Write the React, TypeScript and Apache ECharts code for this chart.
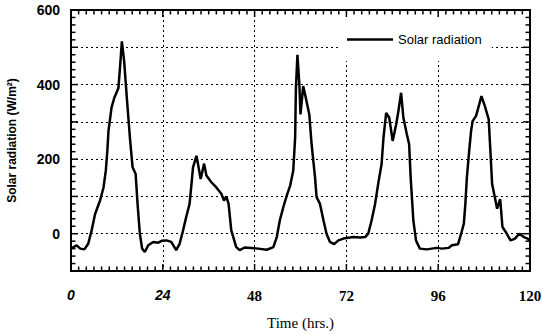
import React, { useEffect, useRef } from "react";
import * as echarts from "echarts";

// Time (hrs.) and solar radiation (W/m²)
const hours: number[] = [
  0, 1.5, 2.4, 3.5, 4.5, 5.4, 6.3, 7.6, 8.5, 9.1, 9.5, 9.8, 10.6, 11.3, 12.4, 12.8, 13.3, 13.9, 14.6, 15.4,
  16.1, 16.9, 17.4, 18.0, 18.6, 19.3, 20.2, 21.5, 22.8, 23.7, 25.0, 26.2, 27.5, 28.4, 29.3, 30.1, 31.0, 31.5,
  31.9, 32.8, 33.2, 33.9, 34.8, 35.4, 36.7, 38.0, 39.3, 40.0, 40.6, 41.2, 41.9, 43.2, 44.1, 45.4, 47.1, 48.9,
  51.2, 52.9, 53.8, 54.6, 55.5, 56.4, 57.3, 58.1, 58.6, 58.8, 59.2, 59.7, 60.0, 60.7, 61.4, 62.3, 62.9, 63.8,
  64.2, 65.1, 66.0, 66.8, 67.7, 68.8, 69.9, 71.6, 73.8, 75.6, 76.9, 77.7, 78.6, 79.5, 80.3, 81.2, 81.7, 82.4,
  83.2, 84.1, 85.0, 85.6, 86.3, 86.9, 87.8, 88.4, 88.8, 89.5, 90.2, 91.2, 93.0, 95.6, 97.0, 98.7, 99.6, 101.2,
  102.0, 102.7, 103.1, 103.5, 104.1, 104.6, 105.0, 105.9, 106.6, 107.3, 108.2, 109.2, 109.6, 110.1, 110.8,
  111.4, 112.2, 112.8, 113.7, 114.9, 116.0, 117.2, 118.4, 119.4, 120,
];
const radiation: number[] = [
  -40, -31, -40, -42, -27, 9, 53, 89, 124, 169, 222, 276, 338, 364, 391, 444, 516, 462, 364, 258,
  178, 160, 80, 0, -40, -49, -31, -22, -24, -19, -18, -22, -44, -27, 9, 44, 80, 133,
  178, 209, 187, 147, 188, 156, 138, 124, 107, 89, 100, 80, 9, -36, -44, -37, -38, -40,
  -43, -36, -9, 36, 71, 102, 129, 169, 258, 391, 480, 400, 320, 396, 364, 320, 240, 151,
  98, 80, 36, 0, -22, -28, -18, -12, -9, -10, -9, 0, 36, 80, 133, 187, 258, 324,
  311, 249, 293, 329, 378, 311, 267, 240, 151, 36, -18, -40, -42, -38, -40, -38, -31, -28,
  0, 27, 80, 151, 222, 276, 302, 316, 342, 369, 342, 307, 231, 133, 98,
  67, 93, 18, 4, -18, -14, 0, -9, -13, -19,
];
const xTicks: number[] = [0, 24, 48, 72, 96, 120];
const yLabelled: number[] = [0, 200, 400, 600];
const X_MIN = 0, X_MAX = 120, X_MAJOR = 24, X_MINOR = 2;
const Y_MIN = -100, Y_MAX = 600, Y_MAJOR = 100, Y_MINOR = 20;
const seriesName = "Solar radiation";

const dotted = () => ({ show: true, lineStyle: { color: "#000", width: 1, type: [2, 3] as any } });
const axisLine = () => ({ show: true, onZero: false, lineStyle: { color: "#000", width: 2 } });

export default function App() {
  const ref = useRef<HTMLDivElement>(null);
  useEffect(() => {
    if (!ref.current) return;
    const chart = echarts.init(ref.current, null, { renderer: "svg" });
    const data = hours.map((h, i) => [h, radiation[i]]);
    chart.setOption({
      animation: false,
      backgroundColor: "#fff",
      grid: { left: 71, right: 12, top: 10, bottom: 63, containLabel: false, outerBoundsMode: "none" },
      legend: {
        data: [seriesName],
        left: 338,
        top: 20,
        padding: [13, 10, 15, 9],
        icon: "rect",
        itemWidth: 46,
        itemHeight: 2.5,
        itemGap: 5,
        backgroundColor: "#fff",
        textStyle: { fontFamily: "Liberation Sans", fontSize: 13, color: "#000" },
      },
      xAxis: [
        {
          type: "value",
          min: X_MIN,
          max: X_MAX,
          interval: X_MAJOR,
          name: "Time (hrs.)",
          nameLocation: "middle",
          nameGap: 44,
          nameTextStyle: { fontFamily: "Liberation Serif", fontSize: 15, color: "#000" },
          axisLine: axisLine(),
          axisTick: { show: false },
          splitLine: dotted(),
          axisLabel: {
            show: true,
            margin: 17,
            formatter: (v: number) =>
              xTicks.indexOf(v) < 2 ? `{it|${v}}` : `{rm|${v}}`,
            rich: {
              it: { fontFamily: "Liberation Sans", fontStyle: "italic", fontWeight: "bold", fontSize: 14, color: "#000" },
              rm: { fontFamily: "Liberation Serif", fontWeight: "bold", fontSize: 15, color: "#000" },
            },
          },
        },
        {
          type: "value",
          position: "top",
          min: X_MIN,
          max: X_MAX,
          interval: X_MAJOR,
          axisLine: axisLine(),
          axisTick: { show: false },
          splitLine: { show: false },
          axisLabel: { show: false },
        },
      ],
      yAxis: [
        {
          type: "value",
          min: Y_MIN,
          max: Y_MAX,
          interval: Y_MAJOR,
          name: "Solar radiation (W/m²)",
          nameLocation: "middle",
          nameGap: 53,
          nameTextStyle: { fontFamily: "Liberation Sans", fontWeight: "bold", fontSize: 12, color: "#000" },
          axisLine: axisLine(),
          axisTick: { show: false },
          splitLine: dotted(),
          axisLabel: {
            show: true,
            margin: 11,
            fontFamily: "Liberation Sans",
            fontWeight: "bold",
            fontSize: 14,
            color: "#000",
            formatter: (v: number) => (yLabelled.indexOf(v) >= 0 ? String(v) : ""),
          },
        },
        {
          type: "value",
          position: "right",
          min: Y_MIN,
          max: Y_MAX,
          interval: Y_MAJOR,
          axisLine: axisLine(),
          axisTick: { show: false },
          splitLine: { show: false },
          axisLabel: { show: false },
        },
      ],
      series: [
        {
          name: seriesName,
          type: "line",
          xAxisIndex: 0,
          yAxisIndex: 0,
          data,
          symbol: "none",
          showSymbol: false,
          lineStyle: { color: "#000", width: 2.5 },
          itemStyle: { color: "#000" },
        },
      ],
    });

    // inward ticks on all four sides, positioned through the grid's own scales
    try {
      const toPx = (h: number, v: number) =>
        chart.convertToPixel({ gridIndex: 0 }, [h, v]) as unknown as number[];
      const corner0 = toPx(X_MIN, Y_MIN);
      const corner1 = toPx(X_MAX, Y_MAX);
      const xl = corner0[0], yb = corner0[1], xr = corner1[0], yt = corner1[1];
      const els: any[] = [];
      const st = { stroke: "#000", lineWidth: 1.5 };
      for (let h = X_MIN; h <= X_MAX; h += X_MINOR) {
        const len = h % X_MAJOR === 0 ? 7 : 4.5;
        const x = toPx(h, Y_MIN)[0];
        els.push({ type: "line", silent: true, z: 100, shape: { x1: x, y1: yb, x2: x, y2: yb - len }, style: st });
        els.push({ type: "line", silent: true, z: 100, shape: { x1: x, y1: yt, x2: x, y2: yt + len }, style: st });
      }
      for (let v = Y_MIN; v <= Y_MAX; v += Y_MINOR) {
        const len = v % Y_MAJOR === 0 ? 7 : 4.5;
        const y = toPx(X_MIN, v)[1];
        els.push({ type: "line", silent: true, z: 100, shape: { x1: xl, y1: y, x2: xl + len, y2: y }, style: st });
        els.push({ type: "line", silent: true, z: 100, shape: { x1: xr, y1: y, x2: xr - len, y2: y }, style: st });
      }
      chart.setOption({ graphic: els });
    } catch (e) {
      // ticks are decorative; keep the chart if conversion fails
    }
    return () => chart.dispose();
  }, []);
  return (
    <div
      ref={ref}
      style={{ position: "fixed", left: 0, top: 0, width: 542, height: 334, background: "#fff" }}
    />
  );
}
